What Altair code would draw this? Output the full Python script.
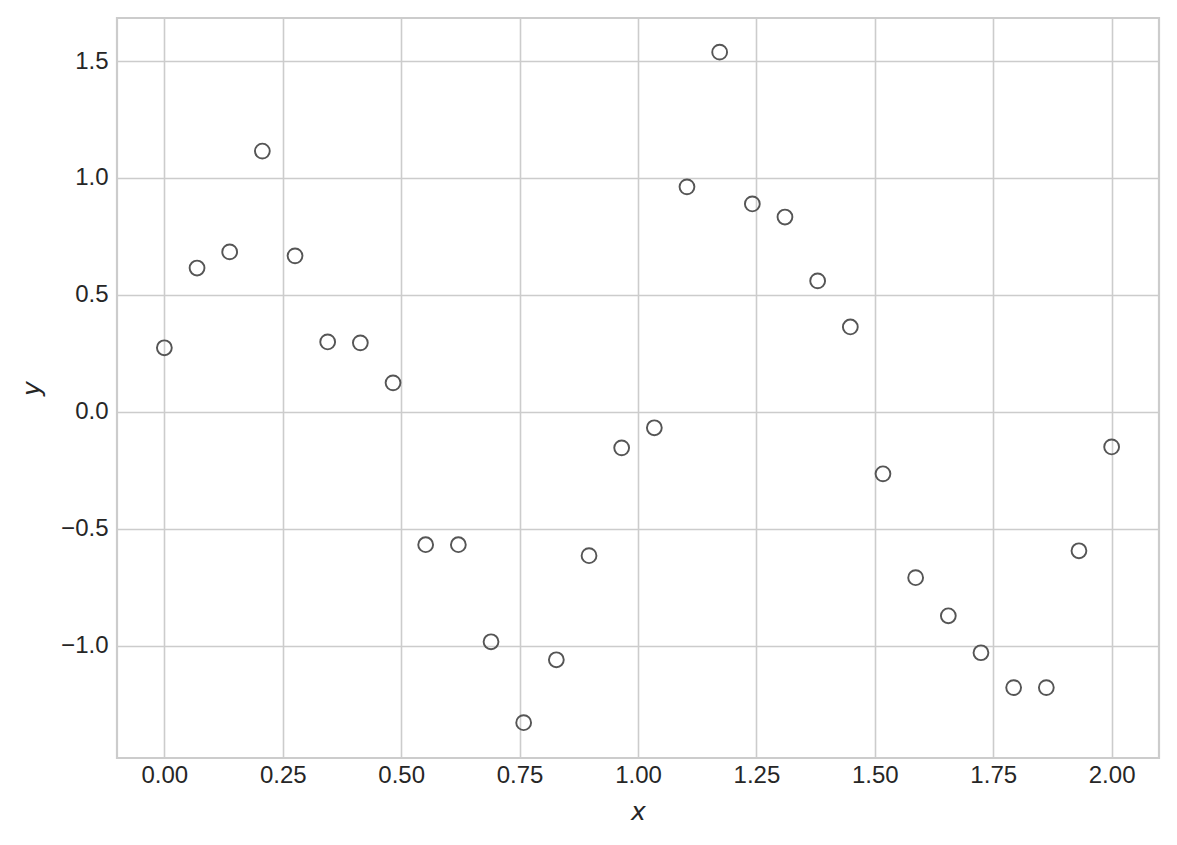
import altair as alt
import pandas as pd

xs = [0.0, 0.0690, 0.1379, 0.2069, 0.2759, 0.3448, 0.4138, 0.4828, 0.5517, 0.6207,
      0.6897, 0.7586, 0.8276, 0.8966, 0.9655, 1.0345, 1.1034, 1.1724, 1.2414, 1.3103,
      1.3793, 1.4483, 1.5172, 1.5862, 1.6552, 1.7241, 1.7931, 1.8621, 1.9310, 2.0]
ys = [0.274, 0.615, 0.684, 1.115, 0.667, 0.299, 0.295, 0.124, -0.568, -0.568,
      -0.983, -1.329, -1.060, -0.615, -0.154, -0.068, 0.962, 1.538, 0.889, 0.833,
      0.560, 0.363, -0.265, -0.709, -0.872, -1.030, -1.179, -1.179, -0.594, -0.150]

x_ticks = [0.0, 0.25, 0.5, 0.75, 1.0, 1.25, 1.5, 1.75, 2.0]
y_ticks = [-1.0, -0.5, 0.0, 0.5, 1.0, 1.5]

df = pd.DataFrame({"x": xs, "y": ys})

chart = alt.Chart(df).mark_point(
    shape="circle", filled=False, size=220, stroke="#555555", strokeWidth=1.9, opacity=1
).encode(
    x=alt.X("x:Q", scale=alt.Scale(domain=[-0.1, 2.1], nice=False, zero=False),
            axis=alt.Axis(values=x_ticks, format=".2f", title="x", titleFontStyle="italic",
                          labelPadding=5, titlePadding=12)),
    y=alt.Y("y:Q", scale=alt.Scale(domain=[-1.48, 1.684], nice=False, zero=False),
            axis=alt.Axis(values=y_ticks, format=".1f", title="y", titleFontStyle="italic",
                          labelPadding=9, titlePadding=16)),
).properties(
    width=1042, height=740,
    autosize=alt.AutoSizeParams(type="none"),
    padding={"left": 109, "top": 10, "right": 10, "bottom": 79},
).configure_view(
    stroke="#cccccc", strokeWidth=2.2
).configure_axis(
    grid=True, gridColor="#cccccc", gridWidth=1.6,
    domain=False, ticks=False,
    labelFont="Liberation Sans", labelFontSize=24, labelColor="#262626",
    titleFont="DejaVu Sans", titleFontSize=25, titleColor="#262626", titleFontWeight="normal",
)

chart.save("out.html", embed_options={"renderer": "svg", "actions": False})
